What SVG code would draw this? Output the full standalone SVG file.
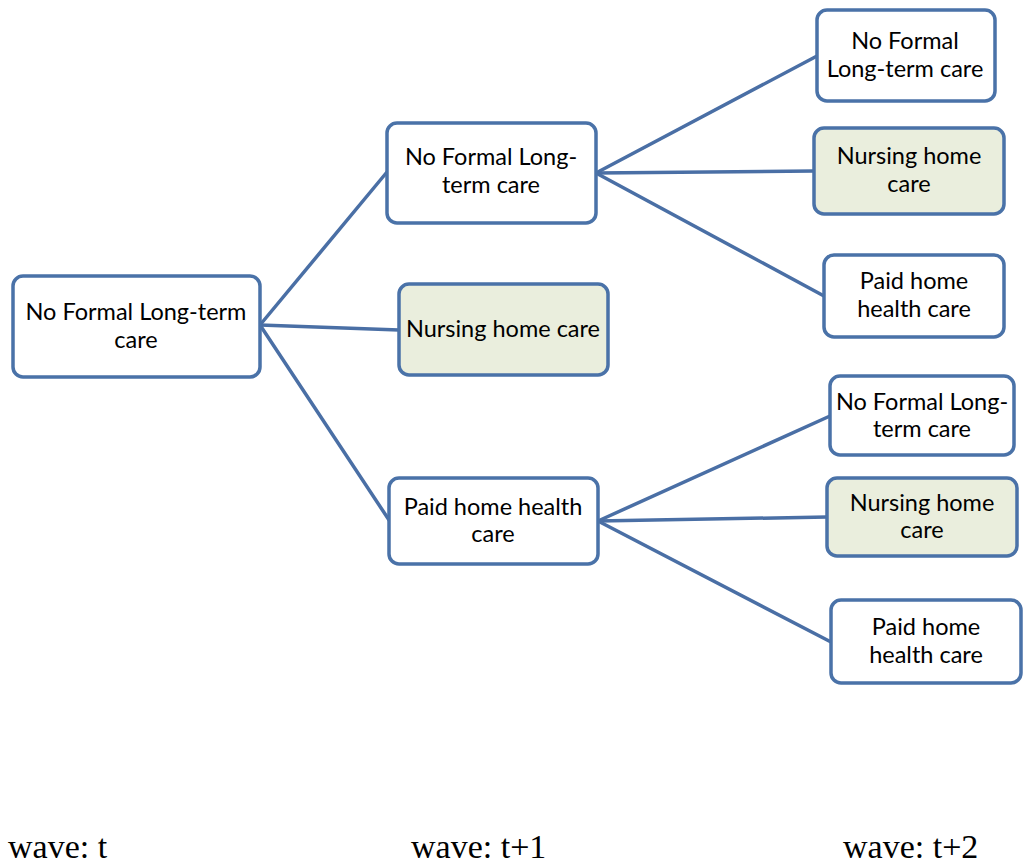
<svg xmlns="http://www.w3.org/2000/svg" width="1023" height="868" viewBox="0 0 1023 868">
<style>
.box{fill:#ffffff;stroke:#4a72a8;stroke-width:3.5}
.green{fill:#eaeedd}
.t{font-family:Lato,"Liberation Sans",sans-serif;font-size:23.5px;fill:#000;text-anchor:middle}
.w{font-family:"Liberation Serif",serif;font-size:34px;fill:#000}
.c line{stroke:#4a6fa5;stroke-width:3.5;stroke-linecap:round}
</style>
<rect width="1023" height="868" fill="#ffffff"/>
<g class="c" id="connectors">
<line x1="260" y1="325" x2="387" y2="172"/>
<line x1="260" y1="325" x2="399" y2="330"/>
<line x1="260" y1="325" x2="389" y2="520"/>
<line x1="596" y1="173" x2="817" y2="56"/>
<line x1="596" y1="173" x2="814" y2="171"/>
<line x1="596" y1="173" x2="824" y2="296"/>
<line x1="598" y1="521" x2="830" y2="416"/>
<line x1="598" y1="521" x2="827" y2="517"/>
<line x1="598" y1="521" x2="831" y2="642"/>
</g>
<g id="root">
<rect class="box" x="13" y="276" width="247" height="101" rx="10"/>
<text class="t" x="136" y="320">No Formal Long-term</text>
<text class="t" x="136" y="348">care</text>
</g>
<g id="b1">
<rect class="box" x="387" y="123" width="209" height="100" rx="10"/>
<text class="t" x="491" y="165">No Formal Long-</text>
<text class="t" x="491" y="193">term care</text>
</g>
<g id="b2">
<rect class="box green" x="399" y="284" width="209" height="91" rx="10"/>
<text class="t" x="503" y="337">Nursing home care</text>
</g>
<g id="b3">
<rect class="box" x="389" y="478" width="209" height="86" rx="10"/>
<text class="t" x="493" y="515">Paid home health</text>
<text class="t" x="493" y="542">care</text>
</g>
<g id="c1">
<rect class="box" x="817" y="10" width="178" height="91" rx="10"/>
<text class="t" x="905" y="49">No Formal</text>
<text class="t" x="905" y="77">Long-term care</text>
</g>
<g id="c2">
<rect class="box green" x="814" y="128" width="190" height="86" rx="10"/>
<text class="t" x="909" y="164">Nursing home</text>
<text class="t" x="909" y="192">care</text>
</g>
<g id="c3">
<rect class="box" x="824" y="255" width="180" height="82" rx="10"/>
<text class="t" x="914" y="289">Paid home</text>
<text class="t" x="914" y="317">health care</text>
</g>
<g id="d1">
<rect class="box" x="830" y="376" width="184" height="79" rx="10"/>
<text class="t" x="922" y="410">No Formal Long-</text>
<text class="t" x="922" y="437">term care</text>
</g>
<g id="d2">
<rect class="box green" x="827" y="478" width="190" height="78" rx="10"/>
<text class="t" x="922" y="511">Nursing home</text>
<text class="t" x="922" y="538">care</text>
</g>
<g id="d3">
<rect class="box" x="831" y="600" width="190" height="83" rx="10"/>
<text class="t" x="926" y="635">Paid home</text>
<text class="t" x="926" y="663">health care</text>
</g>
<g id="waves">
<text class="w" x="8" y="858">wave: t</text>
<text class="w" x="411" y="858">wave: t+1</text>
<text class="w" x="843" y="858">wave: t+2</text>
</g>
</svg>
